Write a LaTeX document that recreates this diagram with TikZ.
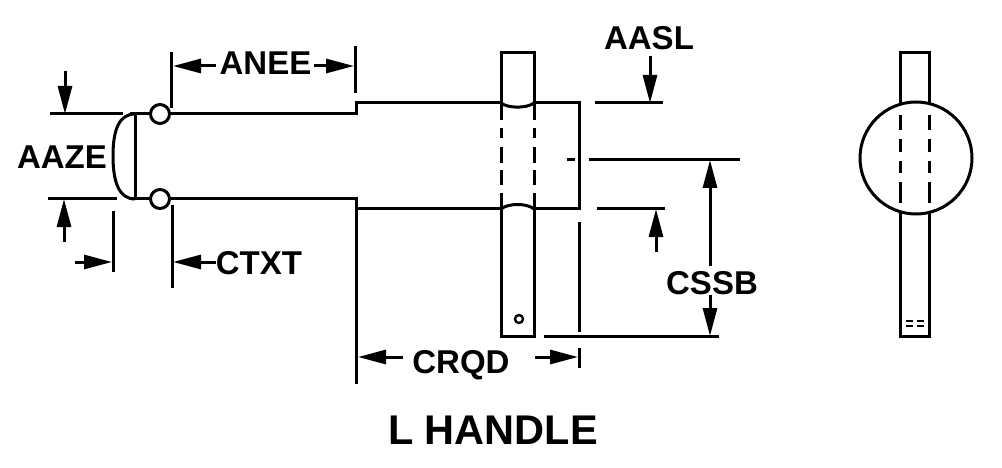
\documentclass[tikz,border=0pt]{standalone}
\usepackage{fontspec}
\setmainfont{Liberation Sans}
\usetikzlibrary{arrows.meta}
\tikzset{
  part/.style={line width=3pt,line cap=butt,line join=miter},
  dimline/.style={line width=3pt},
  dimarrow/.style={line width=3pt,-{Triangle[length=28pt,width=14pt]}},
  dimlabel/.style={font=\fontsize{33}{33}\selectfont\bfseries,anchor=base,inner sep=0pt},
  titlelabel/.style={font=\fontsize{41.5}{42}\selectfont\bfseries,anchor=base,inner sep=0pt},
  pin/.style={circle,draw,line width=3pt,minimum size=19pt,inner sep=0pt,fill=white},
  hole/.style={circle,draw,line width=2.4pt,minimum size=8pt,inner sep=0pt},
  head/.style={circle,draw,line width=3pt,minimum size=112pt,inner sep=0pt},
}
\begin{document}
\begin{tikzpicture}[x=1pt,y=-1pt]
\useasboundingbox (0,0) rectangle (1002,468);
% labels
\node[dimlabel] (anee) at (265.5,75) {ANEE};
\node[dimlabel] (aaze) at (62,168) {AAZE};
\node[dimlabel] (ctxt) at (259,274) {CTXT};
\node[dimlabel] (aasl) at (649,49.5) {AASL};
\node[dimlabel] (cssb) at (712,294) {CSSB};
\node[dimlabel] (crqd) at (461,373) {CRQD};
\node[titlelabel] (title) at (493,444) {L HANDLE};
% shaft end
\draw[part] (135,114) -- (135,199);
\draw[part] (135,114) .. controls (119,114) and (113,130) .. (113,156) .. controls (113,182) and (119,199) .. (135,199);
\draw[part] (130,114) -- (356,114) -- (356,103) -- (501,103);
\draw[part] (130,199) -- (356,199);
\draw[part] (356,384) -- (356,197.5);
\draw[part] (356,209) -- (501,209);
\draw[part] (534,103) -- (579.5,103) -- (579.5,209) -- (534,209);
\node[pin] (pinA) at (160,114) {};
\node[pin] (pinB) at (160,199) {};
% handle, side view
\draw[part] (501,120) -- (501,53) -- (534,53) -- (534,120);
\draw[part] (501,193) -- (501,336) -- (534,336) -- (534,193);
\draw[part] (501,103) .. controls (508,108.5) and (527,108.5) .. (534,103);
\draw[part] (501,209) .. controls (508,203) and (527,203) .. (534,209);
\foreach \xx in {501,534}{
  \draw[part] (\xx,128) -- (\xx,138);
  \draw[part] (\xx,147) -- (\xx,163);
  \draw[part] (\xx,170) -- (\xx,185);
}
\node[hole] (eye) at (519,319) {};
% extension lines
\draw[dimline] (171,108) -- (171,52);
\draw[dimline] (355,46) -- (355,93);
\draw[dimline] (50,114) -- (123,114);
\draw[dimline] (48,199) -- (117,199);
\draw[dimline] (113,211) -- (113,272);
\draw[dimline] (172,205) -- (172,288);
\draw[dimline] (595,103) -- (663,103);
\draw[dimline] (597,209) -- (665,209);
\draw[dimline] (567,160) -- (575,160);
\draw[dimline] (589,160) -- (740,160);
\draw[dimline] (544,336) -- (719,336);
\draw[dimline] (579.5,222) -- (579.5,332);
\draw[dimline] (579.5,348) -- (579.5,368);
% dimension arrows
\draw[dimarrow] (216,66) -- (173,66);
\draw[dimarrow] (314,66) -- (354,66);
\draw[dimarrow] (65,71) -- (65,114);
\draw[dimarrow] (64,242) -- (64,199);
\draw[dimarrow] (75,262) -- (112,262);
\draw[dimarrow] (216,262) -- (173,262);
\draw[dimarrow] (650,56) -- (650,103);
\draw[dimarrow] (656,252) -- (656,209);
\draw[dimarrow] (710,266) -- (710,160);
\draw[dimarrow] (710,295) -- (710,336);
\draw[dimarrow] (403,357) -- (358,357);
\draw[dimarrow] (535,357) -- (578,357);
% end view
\node[head] (headview) at (916,158) {};
\draw[part] (900.5,104.5) -- (900.5,52.5) -- (929.5,52.5) -- (929.5,104.5);
\draw[part] (900.5,212) -- (900.5,336.5) -- (929.5,336.5) -- (929.5,212);
\foreach \xx in {900.5,929.5}{
  \draw[part] (\xx,115) -- (\xx,130);
  \draw[part] (\xx,139) -- (\xx,152);
  \draw[part] (\xx,161) -- (\xx,173);
  \draw[part] (\xx,182) -- (\xx,203);
}
\draw[line width=2.4pt] (906,321) -- (913,321) (917,321) -- (924,321);
\draw[line width=2.4pt] (906,326) -- (913,326) (917,326) -- (924,326);
\end{tikzpicture}
\end{document}
